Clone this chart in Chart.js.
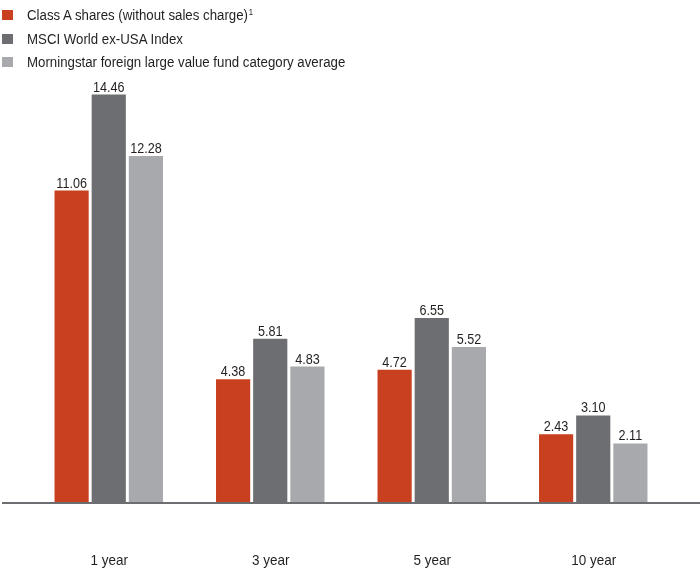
<!DOCTYPE html>
<html>
<head>
<meta charset="utf-8">
<script src="https://cdn.jsdelivr.net/npm/chart.js@4/dist/chart.umd.min.js"></script>
<style>
html,body{margin:0;padding:0;background:#fff;}
#wrap{position:relative;width:700px;height:569px;}
#legend{position:absolute;left:0;top:0;font-family:"Liberation Sans",sans-serif;font-size:15.5px;color:#231f20;}
.li{position:absolute;left:0;white-space:nowrap;height:20px;line-height:20px;width:600px;}
.sw{position:absolute;left:2px;top:5px;width:11px;height:10px;}
.tx{position:absolute;left:27px;top:0;transform:scaleX(0.855);transform-origin:0 50%;}
.fn{font-size:9px;vertical-align:top;position:relative;top:-3px;margin-left:1px;}
</style>
</head>
<body>
<div id="wrap">
<canvas id="c" width="700" height="569"></canvas>
<div id="legend"></div>
</div>
<script>
const categories = ["1 year", "3 year", "5 year", "10 year"];
const seriesNames = ["Class A shares (without sales charge)", "MSCI World ex-USA Index", "Morningstar foreign large value fund category average"];
const footnotes = ["1", "", ""];
const classA = [11.06, 4.38, 4.72, 2.43];
const msci = [14.46, 5.81, 6.55, 3.10];
const morningstar = [12.28, 4.83, 5.52, 2.11];
const colors = ["#c8401f", "#6d6e71", "#a7a9ac"];

const leg = document.getElementById('legend');
seriesNames.forEach((n, i) => {
  const d = document.createElement('div');
  d.className = 'li';
  d.style.top = (5 + i * 23.5) + 'px';
  d.innerHTML = '<span class="sw" style="background:' + colors[i] + '"></span><span class="tx"><span class="nm"></span><span class="fn"></span></span>';
  d.querySelector('.nm').textContent = n;
  d.querySelector('.fn').textContent = footnotes[i];
  leg.appendChild(d);
});

function narrowText(ctx, txt, x, y, sx) {
  ctx.save();
  ctx.translate(x, y);
  ctx.scale(sx, 1);
  ctx.fillText(txt, 0, 0);
  ctx.restore();
}

const extras = {
  id: 'extras',
  afterDatasetsDraw(chart) {
    const ctx = chart.ctx;
    const y0 = chart.scales.y.getPixelForValue(0);
    ctx.save();
    ctx.strokeStyle = '#6d6e71';
    ctx.lineWidth = 2;
    ctx.beginPath();
    ctx.moveTo(2, y0);
    ctx.lineTo(700, y0);
    ctx.stroke();
    ctx.fillStyle = '#231f20';
    ctx.textAlign = 'center';
    ctx.textBaseline = 'alphabetic';
    ctx.font = '14px "Liberation Sans", sans-serif';
    chart.data.datasets.forEach((ds, di) => {
      const meta = chart.getDatasetMeta(di);
      meta.data.forEach((bar, i) => {
        narrowText(ctx, ds.data[i].toFixed(2), bar.x, bar.y - 3, 0.9);
      });
    });
    ctx.font = '15px "Liberation Sans", sans-serif';
    const xs = chart.scales.x;
    chart.data.labels.forEach((lab, i) => {
      narrowText(ctx, lab, xs.getPixelForValue(i) + 0.5, y0 + 62, 0.9);
    });
    ctx.restore();
  }
};

new Chart(document.getElementById('c'), {
  type: 'bar',
  data: {
    labels: categories,
    datasets: [
      { label: seriesNames[0], data: classA, backgroundColor: colors[0] },
      { label: seriesNames[1], data: msci, backgroundColor: colors[1] },
      { label: seriesNames[2], data: morningstar, backgroundColor: colors[2] }
    ]
  },
  options: {
    responsive: false,
    animation: false,
    devicePixelRatio: 1,
    layout: { padding: { left: 28, right: 26, top: 51, bottom: 66 } },
    plugins: { legend: { display: false }, tooltip: { enabled: false } },
    datasets: { bar: { categoryPercentage: 0.69, barPercentage: 0.92 } },
    scales: {
      x: { display: false },
      y: { display: false, min: 0, max: 16 }
    }
  },
  plugins: [extras]
});
</script>
</body>
</html>
